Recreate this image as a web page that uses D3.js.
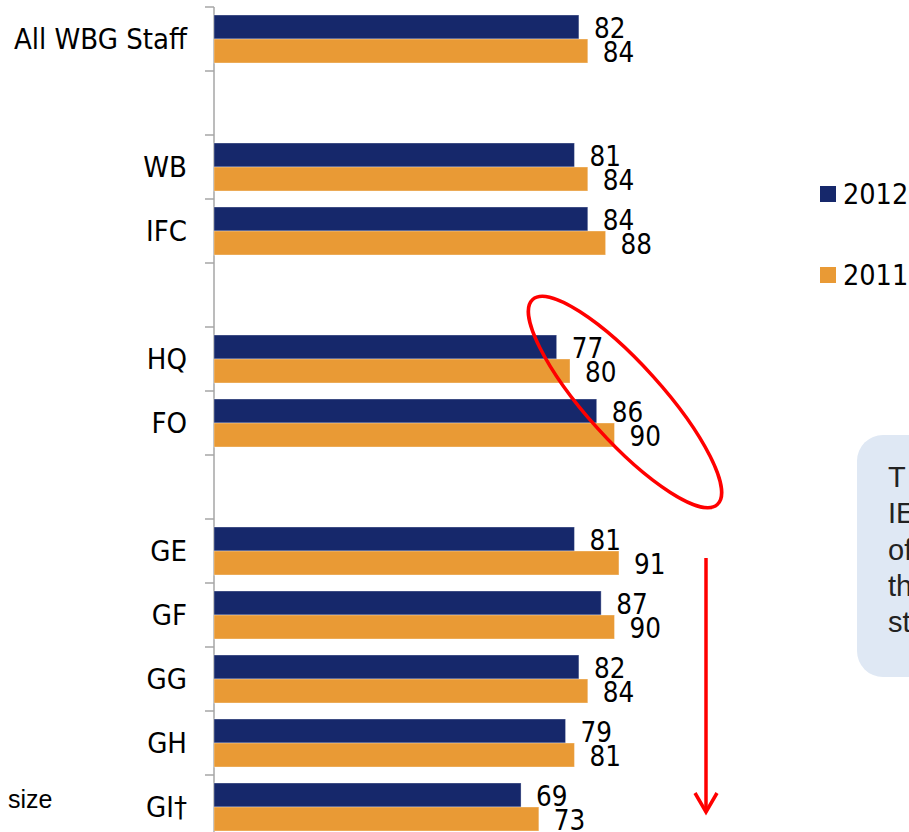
<!DOCTYPE html>
<html>
<head>
<meta charset="utf-8">
<script src="https://cdn.jsdelivr.net/npm/d3@7"></script>
<style>
  body { margin: 0; background: #fff; }
  svg { display: block; }
</style>
</head>
<body>
<script>
// rows of the chart, '' = spacer row
var categories = ['All WBG Staff', '', 'WB', 'IFC', '', 'HQ', 'FO', '', 'GE', 'GF', 'GG', 'GH', 'GI\u2020'];
var values2012 = [82, null, 81, 84, null, 77, 86, null, 81, 87, 82, 79, 69];
var values2011 = [84, null, 84, 88, null, 80, 90, null, 91, 90, 84, 81, 73];
var seriesNames = ['2012', '2011'];
var calloutLines = ['T', 'IE', 'of', 'th', 'st'];

var navy = '#16286b';
var orange = '#e99a35';
var font = "'DejaVu Sans Condensed', 'DejaVu Sans', sans-serif";

var svg = d3.select('body')
            .append('svg')
            .attr('width', 909)
            .attr('height', 832);

var y = d3.scaleBand()
            .domain(d3.range(categories.length))
            .range([7, 7 + 64 * categories.length])
            .paddingInner(0.25)
            .paddingOuter(0.125);
var step = y.step();

var x = d3.scaleLinear()
            .domain([0, 100])
            .range([214, 659]);

var ySeries = d3.scaleBand()
            .domain(seriesNames)
            .range([0, y.bandwidth()]);

// axis line + tick marks at row boundaries
svg.append('line')
    .attr('x1', x(0)).attr('x2', x(0))
    .attr('y1', 7).attr('y2', 832)
    .attr('stroke', '#a6a6a6')
    .attr('stroke-width', 1.5);

svg.selectAll('line.tick')
    .data(d3.range(categories.length + 1))
    .enter().append('line')
    .attr('class', 'tick')
    .attr('x1', x(0) - 9).attr('x2', x(0))
    .attr('y1', function(d){return 7 + d * step;})
    .attr('y2', function(d){return 7 + d * step;})
    .attr('stroke', '#a6a6a6')
    .attr('stroke-width', 1.5);

// category labels
svg.selectAll('text.cat')
    .data(categories)
    .enter().append('text')
    .attr('class', 'cat')
    .attr('x', 187)
    .attr('y', function(d, i){return y(i) + y.bandwidth() / 2;})
    .attr('dy', '0.36em')
    .attr('text-anchor', 'end')
    .attr('font-family', font)
    .attr('font-size', 29)
    .attr('fill', '#000')
    .text(function(d){return d;});

var series = [
    {name: '2012', values: values2012, color: navy},
    {name: '2011', values: values2011, color: orange}
];

series.forEach(function(s){
    var rows = s.values.map(function(v, i){return {i: i, v: v};})
                .filter(function(d){return d.v != null;});

    svg.selectAll('rect.s' + s.name)
        .data(rows)
        .enter().append('rect')
        .attr('class', 's' + s.name)
        .attr('x', x(0))
        .attr('y', function(d){return y(d.i) + ySeries(s.name);})
        .attr('width', function(d){return x(d.v) - x(0);})
        .attr('height', ySeries.bandwidth())
        .attr('fill', s.color)
        .attr('stroke', '#ffffff')
        .attr('stroke-opacity', 0.35)
        .attr('stroke-width', 1);

    svg.selectAll('text.l' + s.name)
        .data(rows)
        .enter().append('text')
        .attr('class', 'l' + s.name)
        .attr('x', function(d){return x(d.v) + 15;})
        .attr('y', function(d){return y(d.i) + ySeries(s.name) + ySeries.bandwidth() / 2 + 1;})
        .attr('dy', '0.36em')
        .attr('font-family', font)
        .attr('font-size', 27.5)
        .attr('fill', '#000')
        .text(function(d){return d.v;});
});

// legend
var legend = svg.selectAll('g.legend')
    .data(series)
    .enter().append('g')
    .attr('class', 'legend')
    .attr('transform', function(d, i){return 'translate(820,' + (186 + i * 81) + ')';});
legend.append('rect')
    .attr('width', 16).attr('height', 16)
    .attr('fill', function(d){return d.color;});
legend.append('text')
    .attr('x', 23).attr('y', 8)
    .attr('dy', '0.36em')
    .attr('font-family', font)
    .attr('font-size', 28.5)
    .text(function(d){return d.name;});

// red ellipse around HQ / FO
svg.append('ellipse')
    .attr('cx', 0).attr('cy', 0)
    .attr('rx', 138).attr('ry', 38)
    .attr('transform', 'translate(625,402) rotate(48)')
    .attr('fill', 'none')
    .attr('stroke', '#ff0000')
    .attr('stroke-width', 3.5);

// red arrow
svg.append('line')
    .attr('x1', 706).attr('y1', 558)
    .attr('x2', 706).attr('y2', 812)
    .attr('stroke', '#ff0000')
    .attr('stroke-width', 3.5);
svg.append('path')
    .attr('d', 'M695,793 L706,812 L717,793')
    .attr('fill', 'none')
    .attr('stroke', '#ff0000')
    .attr('stroke-width', 3.5);

// callout box (cut off at the right edge)
svg.append('rect')
    .attr('x', 857).attr('y', 435)
    .attr('width', 120).attr('height', 242)
    .attr('rx', 26).attr('ry', 26)
    .attr('fill', '#dfe8f4');
svg.append('text').selectAll('tspan')
    .data(calloutLines)
    .enter().append('tspan')
    .attr('x', 888)
    .attr('y', function(d, i){return 487 + i * 36.3;})
    .attr('font-family', "'Liberation Sans', Arial, sans-serif")
    .attr('font-size', 29)
    .attr('fill', '#222')
    .text(function(d){return d;});

svg.append('text')
    .attr('x', 8).attr('y', 808)
    .attr('font-family', "'Liberation Sans', Arial, sans-serif")
    .attr('font-size', 25)
    .attr('fill', '#000')
    .text('size');
</script>
</body>
</html>
